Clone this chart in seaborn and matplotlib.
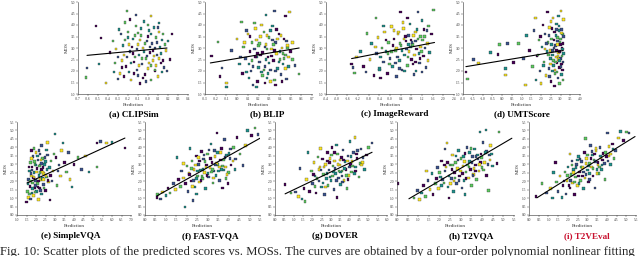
import numpy as np
import pandas as pd
import matplotlib
matplotlib.use('Agg')
import matplotlib.pyplot as plt
import seaborn as sns

sns.set_theme(style='ticks')
plt.rcParams['font.family'] = ['Liberation Serif', 'DejaVu Serif']

# ---------------- data ----------------
# (a) CLIPSim: outer points + dense core
clip_x_outer = [-0.52, -0.62, -0.61, -0.42, -0.49, -0.47, -0.21, -0.12, 0.03, 0.11, 0.24,
                -0.35, -0.30, -0.28, -0.25, -0.22, -0.20, -0.18, -0.17, -0.15, -0.14, -0.12, -0.11,
                -0.10, -0.09, -0.08, -0.07, -0.06, -0.05, -0.04, -0.03, -0.02, -0.01, 0.00, 0.01,
                0.02, 0.03, 0.04, 0.05, 0.06, 0.07, 0.08, 0.09, 0.10, 0.12, 0.13, 0.15, 0.16, 0.18,
                0.20, 0.22, -0.33, -0.27, -0.24, -0.19, -0.16, -0.13, -0.10, -0.08, -0.04, 0.00,
                0.03, 0.07, 0.11, 0.14, -0.38, -0.23, 0.19]
clip_y_outer = [3.96, 1.73, 2.13, 1.48, 2.30, 3.43, 4.60, 4.43, 4.39, 4.09, 3.60,
                3.30, 2.60, 1.90, 3.10, 2.20, 3.70, 2.85, 1.60, 3.40, 2.40, 3.95, 2.05,
                3.15, 2.70, 1.45, 3.55, 2.30, 3.00, 4.15, 1.85, 2.55, 3.30, 2.10, 3.75,
                2.80, 1.60, 3.20, 2.45, 3.90, 2.00, 3.45, 2.70, 1.75, 3.05, 2.35, 3.60, 2.15, 2.90,
                3.30, 2.50, 2.35, 3.60, 2.70, 1.95, 3.05, 2.60, 1.80, 3.35, 2.85, 3.50,
                2.25, 3.00, 2.55, 1.95, 2.80, 4.10, 2.00]
clip_x_core = [-0.32, -0.29, -0.26, -0.23, -0.21, -0.19, -0.17, -0.15, -0.13, -0.11, -0.09, -0.07,
               -0.05, -0.03, -0.01, 0.01, 0.03, 0.05, 0.07, 0.09, 0.11, 0.13, 0.15, 0.17, -0.30,
               -0.26, -0.20, -0.14, -0.06, 0.02, 0.08, 0.14, -0.18, -0.10, -0.02, 0.06, -0.34,
               -0.24, 0.00, 0.10]
clip_y_core = [2.95, 3.80, 2.15, 3.35, 2.60, 3.15, 2.35, 2.75, 3.55, 2.95, 2.25, 3.85,
               1.70, 3.20, 2.65, 2.35, 3.60, 2.90, 2.05, 3.25, 3.70, 2.75, 2.45, 3.15, 1.65,
               2.45, 3.45, 1.90, 2.55, 3.05, 2.25, 3.35, 4.25, 3.65, 1.55, 2.65, 1.95,
               1.75, 4.00, 3.90]
clip_fit_x = [-0.61, 0.19]
clip_fit_y = [2.68, 3.00]

# (b) BLIP
blip_x_outer = [-0.24, -0.18, -0.14, -0.10, -0.10, -0.16, 0.04, 0.35, 0.49, 0.27, 0.45, 0.58, 0.54,
                0.52, 0.18, 0.26, 0.16,
                -0.05, 0.00, 0.02, 0.05, 0.06, 0.08, 0.10, 0.11, 0.12, 0.14, 0.15, 0.17, 0.18, 0.19,
                0.20, 0.21, 0.22, 0.23, 0.24, 0.25, 0.26, 0.27, 0.28, 0.29, 0.30, 0.31, 0.32, 0.33,
                0.34, 0.35, 0.36, 0.37, 0.38, 0.39, 0.40, 0.41, 0.42, 0.43, 0.44, 0.45, 0.46, 0.47,
                0.48, 0.50, 0.52, 0.13, 0.23, 0.31, 0.36, 0.28]
blip_y_outer = [2.65, 3.26, 2.13, 1.48, 1.30, 1.75, 4.13, 4.60, 4.57, 4.43, 4.40, 1.87, 2.25,
                3.25, 1.30, 1.48, 4.09,
                2.90, 3.40, 2.30, 1.90, 3.05, 2.55, 3.60, 1.70, 2.85, 3.25, 2.20, 3.85, 2.60, 1.55,
                3.10, 2.40, 3.50, 1.95, 2.80, 3.70, 2.20, 3.15, 1.70, 2.60, 3.45, 2.05, 2.95, 3.95,
                2.45, 1.60, 3.25, 2.75, 2.10, 3.60, 2.50, 1.85, 3.00, 2.30, 3.40, 2.70, 1.65, 3.10,
                2.20, 2.85, 2.50, 2.00, 4.00, 3.75, 1.40, 2.95]
blip_x_core = [0.03, 0.07, 0.09, 0.12, 0.14, 0.16, 0.18, 0.20, 0.22, 0.24, 0.26, 0.28, 0.30, 0.32,
               0.34, 0.36, 0.38, 0.40, 0.42, 0.44, 0.46, 0.48, 0.11, 0.19, 0.25, 0.33, 0.41, 0.29,
               0.37, 0.21, 0.15, 0.45, 0.27, 0.35, 0.43, 0.09, 0.31, 0.39, 0.17, 0.47]
blip_y_core = [2.60, 3.25, 1.95, 3.50, 2.45, 2.95, 3.35, 2.15, 2.70, 1.80, 3.05, 3.55, 2.35, 2.65,
               3.15, 2.00, 3.40, 2.85, 1.55, 2.55, 3.30, 2.60, 2.30, 2.75, 2.05, 3.35, 3.55, 1.90,
               3.80, 3.20, 1.40, 2.10, 2.50, 2.90, 2.75, 3.75, 1.55, 2.40, 2.60, 3.00]
blip_fit_x = [-0.25, 0.58]
blip_fit_y = [2.35, 3.00]

# (c) ImageReward
ir_x_outer = [-1.44, -1.33, -1.38, -1.25, -1.10, -1.00, -0.86, -0.90, -0.75, -0.70, -0.60, -0.52,
              -0.50, -0.45, -0.40, -0.35, -0.30, -0.25, -0.20, -0.15, -0.10, -0.05, 0.00, 0.06,
              0.10, 0.15, 0.20, 0.25, 0.30, 0.35, 0.40, 0.42, 0.45, 0.50, 0.55, 0.60, 0.65, 0.70,
              0.72, 0.75, 0.80, 0.85, 0.90, 0.95, 0.98, 1.00, 1.05, 1.10, 1.15, 1.20, 1.25, 1.30,
              1.35, 1.40, 1.48, 1.55, 1.63, 1.05, 0.25, 0.55, 0.78, -0.08, 1.20]
ir_y_outer = [2.30, 1.92, 2.15, 2.60, 2.85, 2.20, 3.64, 1.95, 2.50, 3.20, 1.80, 4.30,
              2.75, 3.45, 2.10, 1.70, 3.00, 2.40, 3.70, 2.85, 1.90, 3.25, 2.55, 3.93,
              2.20, 3.40, 2.90, 1.75, 3.60, 2.45, 4.56, 3.10, 2.05, 3.85, 2.70, 3.30, 2.25, 3.55,
              2.85, 4.05, 2.50, 3.15, 1.85, 3.70, 2.00, 2.95, 3.40, 2.35, 3.05, 4.20, 2.65, 3.50,
              2.15, 3.20, 2.80, 3.60, 4.65, 4.56, 3.00, 2.00, 3.35, 2.75, 1.95]
ir_x_core = [-0.55, -0.35, -0.15, 0.05, 0.20, 0.32, 0.45, 0.58, 0.68, 0.82, 0.92, 1.02, 1.12, 1.22,
             1.32, 1.42, -0.25, 0.12, 0.38, 0.62, 0.88, 1.08, 1.28, -0.02, 0.28, 0.52, 0.76, 0.96,
             1.18, 1.38, 0.48, 0.70, 0.86, 1.15, 0.35, 0.15, -0.40, 0.65, 1.45, 0.95]
ir_y_core = [3.05, 2.60, 3.35, 2.85, 2.35, 3.70, 2.90, 3.50, 2.60, 3.25, 2.70, 3.80, 2.55, 3.35,
             3.00, 2.45, 3.95, 3.10, 3.20, 2.95, 3.55, 2.75, 3.80, 2.30, 2.60, 3.40, 3.05, 2.40,
             2.85, 3.75, 4.10, 3.15, 2.30, 3.50, 2.10, 3.75, 2.05, 4.30, 3.95, 3.30]
ir_fit_x = [-1.44, 1.67]
ir_fit_y = [2.54, 3.24]

# (d) UMTScore
umt_x_outer = [-1.85, -1.78, -1.45, -1.20, -0.58, -0.20, -0.12, 0.29, 0.19, 0.19, 0.60, 0.85,
               1.10, 1.20, 1.25, 1.40, 1.55, 1.65, 1.71, 1.75, 1.80, 1.90, 1.95, 2.00, 2.05, 2.10,
               2.15, 2.20, 2.25, 2.30, 2.32, 2.35, 2.40, 2.45, 2.50, 2.52, 2.55, 2.60, 2.62, 2.65,
               2.70, 2.72, 2.75, 2.78, 2.80, 2.82, 2.85, 2.88, 2.90, 2.92, 2.95, 2.97, 3.00, 3.02,
               3.05, 3.07, 3.10, 3.12, 3.14, 3.15, 2.68, 2.95, 3.05, 2.85, 2.58, 3.10]
umt_y_outer = [1.95, 1.65, 2.50, 2.35, 2.80, 2.71, 3.15, 3.20, 1.83, 2.10, 2.38, 3.20,
               2.55, 1.40, 3.55, 2.90, 2.20, 3.75, 4.30, 1.60, 2.65, 3.35, 2.00, 1.45, 3.05, 4.00,
               2.40, 3.60, 1.80, 2.85, 4.56, 3.25, 2.10, 3.90, 2.55, 1.55, 3.40, 2.90, 4.30, 2.25,
               3.70, 1.90, 3.10, 2.60, 4.05, 2.35, 3.45, 1.70, 2.80, 3.95, 2.15, 3.25, 2.55, 4.60,
               1.85, 3.00, 3.60, 2.40, 4.25, 2.75, 1.35, 1.45, 3.80, 3.15, 2.70, 2.05]
umt_x_core = [2.38, 2.42, 2.48, 2.53, 2.57, 2.63, 2.67, 2.71, 2.76, 2.79, 2.83, 2.86, 2.89, 2.93,
              2.96, 2.99, 3.03, 3.06, 3.09, 3.12, 3.13, 2.44, 2.51, 2.59, 2.66, 2.74, 2.81, 2.87,
              2.94, 3.01, 3.08, 3.14, 2.20, 2.12, 1.98, 1.85, 2.28, 2.46, 2.91, 3.04]
umt_y_core = [2.70, 3.55, 2.30, 3.15, 3.85, 2.45, 3.00, 2.05, 3.55, 2.90, 1.95, 3.30, 2.50, 3.75,
              2.85, 3.40, 2.20, 3.65, 2.95, 3.20, 1.60, 1.75, 4.15, 2.00, 3.35, 2.40, 3.80, 2.65,
              2.45, 3.15, 2.65, 3.50, 2.95, 2.25, 3.50, 2.70, 3.20, 2.90, 4.40, 2.30]
umt_fit_x = [-1.85, 3.14]
umt_fit_y = [2.19, 2.89]

# (e) SimpleVQA
svqa_x_outer = [1.50, 1.55, 1.60, 1.62, 1.65, 1.68, 1.70, 1.72, 1.75, 1.78, 1.80, 1.82, 1.85, 1.88,
                1.90, 1.92, 1.95, 1.98, 2.00, 2.02, 2.05, 2.08, 2.10, 2.12, 2.15, 2.18, 2.20, 2.22,
                2.25, 2.28, 2.30, 2.35, 2.38, 2.40, 2.45, 2.50, 2.55, 2.60, 2.65, 2.70, 2.74, 2.80,
                2.85, 2.90, 3.00, 3.05, 3.10, 3.20, 3.30, 3.42, 3.50, 3.60, 3.70, 3.80, 3.90, 4.00,
                4.20, 4.40, 4.60, 4.80, 5.21, 5.20, 5.40, 5.70, 6.00, 6.68, 1.90, 2.30, 2.60]
svqa_y_outer = [0.77, 1.40, 2.10, 1.05, 2.60, 1.70, 3.10, 0.95, 2.30, 1.30, 2.85, 1.90, 3.45, 1.15,
                2.50, 1.60, 3.00, 2.05, 3.70, 1.40, 2.75, 1.85, 3.25, 0.90, 2.35, 1.60, 2.95, 3.60,
                2.10, 1.25, 2.70, 3.35, 1.80, 2.45, 3.00, 1.45, 2.25, 3.55, 1.95, 2.80, 0.89, 3.20,
                2.00, 2.60, 4.79, 3.40, 1.75, 2.95, 2.30, 4.26, 3.10, 2.55, 3.70, 2.10, 1.65, 3.00,
                3.40, 2.70, 3.50, 2.55, 4.26, 2.84, 4.35, 4.25, 4.30, 3.96, 3.95, 4.10, 4.30]
svqa_x_core = [1.58, 1.63, 1.67, 1.73, 1.77, 1.83, 1.87, 1.93, 1.97, 2.03, 2.07, 2.13, 2.17, 2.23,
               2.27, 2.33, 2.37, 2.43, 2.47, 2.53, 2.57, 2.63, 1.70, 1.80, 1.90, 2.00, 2.10, 2.20,
               2.30, 2.40, 2.50, 1.75, 1.95, 2.15, 2.35, 2.55, 2.75, 2.95, 3.15, 3.35]
svqa_y_core = [1.85, 2.85, 1.25, 2.45, 3.35, 1.55, 2.20, 3.15, 1.75, 2.55, 3.50, 2.00, 2.90, 1.45,
               3.25, 2.15, 2.80, 1.60, 3.40, 2.35, 2.70, 2.05, 2.00, 2.65, 2.25, 2.95, 1.65, 2.50,
               3.05, 2.10, 3.15, 3.80, 1.35, 3.80, 2.55, 3.85, 2.35, 3.60, 2.60, 3.80]
svqa_fit_x = [1.53, 6.68]
svqa_fit_y = [1.89, 4.55]

# (f) FAST-VQA
fast_x_outer = [0.57, 0.60, 0.75, 0.85, 1.00, 1.10, 1.20, 1.35, 1.45, 1.53, 1.60, 1.70, 1.75, 1.85,
                1.91, 1.95, 2.00, 2.05, 2.10, 2.15, 2.20, 2.25, 2.30, 2.35, 2.40, 2.45, 2.50, 2.55,
                2.60, 2.65, 2.70, 2.75, 2.80, 2.85, 2.90, 2.95, 3.00, 3.05, 3.10, 3.15, 3.20, 3.25,
                3.30, 3.35, 3.40, 3.44, 3.50, 3.55, 3.60, 3.65, 3.70, 3.75, 3.80, 3.85, 3.90, 3.97,
                4.00, 4.10, 4.20, 4.30, 4.40, 4.55, 4.69, 4.80, 4.90, 5.10, 5.26, 5.40, 1.85, 2.45]
fast_y_outer = [1.02, 1.20, 0.95, 1.35, 1.15, 1.60, 1.30, 1.85, 1.50, 3.40, 2.10, 1.70, 2.60, 2.20,
                0.48, 1.85, 2.90, 1.40, 2.45, 3.95, 2.00, 3.20, 0.85, 2.70, 1.65, 3.50, 2.30, 3.00,
                1.95, 2.65, 3.75, 2.15, 3.30, 2.50, 1.55, 2.95, 3.60, 2.25, 2.80, 4.20, 3.10, 1.90,
                2.60, 3.45, 2.35, 4.84, 3.00, 2.05, 3.70, 2.70, 1.60, 3.25, 4.45, 2.85, 3.55, 1.85,
                2.50, 3.90, 3.20, 2.70, 4.60, 3.60, 2.93, 4.10, 5.00, 4.70, 5.14, 4.75, 3.05, 1.25]
fast_x_core = [2.12, 2.22, 2.32, 2.42, 2.52, 2.62, 2.72, 2.82, 2.92, 3.02, 3.12, 3.22, 3.32, 3.42,
               3.52, 3.62, 3.72, 3.82, 3.92, 4.02, 4.12, 4.22, 4.32, 2.27, 2.47, 2.67, 2.87, 3.07,
               3.27, 3.47, 3.67, 3.87, 4.07, 2.57, 2.77, 2.97, 3.17, 3.37, 3.57, 3.77]
fast_y_core = [2.40, 2.75, 2.05, 2.95, 2.60, 3.20, 2.30, 3.55, 2.85, 2.45, 3.35, 2.70, 3.80, 3.05,
               2.60, 3.25, 2.90, 3.40, 2.40, 3.65, 2.95, 4.00, 3.30, 1.70, 2.15, 2.05, 3.15, 3.85,
               2.20, 3.70, 3.95, 2.15, 3.35, 3.40, 2.70, 2.35, 2.55, 2.95, 2.85, 2.65]
fast_fit_x = [0.57, 5.50]
fast_fit_y = [1.13, 4.54]

# (g) DOVER
dover_x_outer = [0.54, 0.85, 1.10, 1.25, 1.45, 1.55, 1.60, 1.34, 1.70, 1.77, 1.85, 1.95, 2.00, 2.10,
                 2.15, 2.20, 2.30, 2.35, 2.40, 2.50, 2.55, 2.60, 2.65, 2.70, 2.75, 2.80, 2.85, 2.90,
                 2.95, 3.00, 3.05, 3.10, 3.15, 3.20, 3.25, 3.32, 3.35, 3.40, 3.45, 3.50, 3.55, 3.60,
                 3.65, 3.70, 3.75, 3.80, 3.85, 3.90, 3.95, 4.02, 4.05, 4.10, 4.20, 4.29, 4.30, 4.40,
                 4.50, 4.60, 4.70, 4.80, 4.90, 5.00, 5.20, 2.45, 3.30]
dover_y_outer = [1.79, 1.30, 1.35, 1.10, 0.95, 1.55, 0.80, 2.75, 2.10, 3.70, 1.40, 2.60, 1.85, 3.10,
                 2.30, 1.30, 3.43, 2.00, 2.85, 1.65, 3.30, 2.40, 1.20, 3.00, 2.15, 3.70, 1.75, 2.65,
                 3.35, 2.05, 4.00, 2.90, 1.50, 3.20, 2.45, 1.02, 3.60, 2.20, 2.95, 1.80, 3.40, 2.60,
                 3.85, 2.05, 3.15, 2.70, 1.55, 3.50, 2.35, 4.36, 3.00, 2.55, 3.70, 4.60, 2.85, 3.35,
                 2.25, 3.90, 3.10, 2.70, 3.55, 4.00, 4.25, 3.95, 4.15]
dover_x_core = [2.05, 2.25, 2.45, 2.62, 2.78, 2.92, 3.08, 3.22, 3.38, 3.52, 3.68, 3.82, 3.98, 4.12,
                4.25, 4.38, 4.55, 4.72, 2.35, 2.58, 2.82, 3.02, 3.28, 3.48, 3.72, 3.92, 4.15, 4.42,
                2.70, 2.95, 3.18, 3.42, 3.62, 3.88, 4.08, 4.32, 2.15, 3.58, 4.62, 3.12]
dover_y_core = [2.40, 2.15, 2.65, 2.85, 2.45, 3.10, 2.30, 2.75, 3.00, 2.55, 3.25, 2.35, 2.85, 3.15,
                2.45, 3.60, 3.05, 3.40, 2.70, 1.90, 3.20, 3.55, 2.05, 3.25, 2.75, 2.10, 2.90, 3.80,
                1.65, 2.25, 3.70, 2.60, 1.95, 3.20, 3.45, 2.60, 1.70, 2.30, 2.95, 2.55]
dover_fit_x = [0.54, 5.20]
dover_fit_y = [1.25, 3.71]

# (h) T2VQA
t2vqa_x_outer = [0.05, 0.80, 0.95, 1.05, 1.15, 1.25, 1.35, 1.45, 1.55, 1.65, 1.70, 1.80, 1.90, 1.95,
                 2.05, 2.10, 2.20, 2.25, 2.35, 2.40, 2.44, 2.50, 2.55, 2.60, 2.65, 2.70, 2.75, 2.80,
                 2.85, 2.90, 2.95, 3.00, 3.05, 3.10, 3.15, 3.20, 3.25, 3.30, 3.35, 3.40, 3.45, 3.50,
                 3.55, 3.60, 3.65, 3.70, 3.75, 3.80, 3.85, 3.90, 3.95, 4.00, 4.05, 4.10, 4.18, 4.20,
                 4.30, 4.35, 4.40, 4.50, 4.70, 4.80, 2.25, 1.40, 3.20]
t2vqa_y_outer = [1.87, 1.00, 1.45, 0.90, 1.30, 1.75, 1.10, 2.05, 1.50, 2.45, 1.20, 1.85, 2.80, 1.55,
                 2.25, 3.20, 1.90, 2.60, 4.25, 1.65, 1.00, 2.95, 2.15, 3.55, 1.40, 2.50, 3.10, 1.85,
                 2.75, 3.80, 2.30, 3.35, 1.60, 2.90, 2.05, 3.65, 2.55, 4.00, 2.20, 3.15, 2.70, 1.75,
                 3.45, 2.40, 3.90, 2.95, 2.10, 3.30, 2.60, 4.90, 3.60, 2.80, 4.30, 3.10, 5.02, 2.35,
                 1.45, 3.55, 4.10, 2.90, 3.05, 4.90, 3.90, 2.60, 1.20]
t2vqa_x_core = [1.85, 2.00, 2.15, 2.30, 2.45, 2.58, 2.72, 2.86, 2.98, 3.12, 3.24, 3.38, 3.52, 3.62,
                3.78, 3.92, 4.06, 4.22, 4.38, 2.08, 2.38, 2.62, 2.92, 3.18, 3.42, 3.68, 3.98, 4.28,
                2.52, 2.78, 3.08, 3.32, 3.58, 3.88, 4.15, 2.22, 3.48, 3.72, 2.68, 4.45]
t2vqa_y_core = [2.15, 2.50, 2.10, 2.85, 2.30, 2.70, 2.20, 3.25, 2.60, 3.45, 2.15, 2.85, 3.10, 2.75,
                3.55, 3.10, 2.65, 3.75, 3.25, 1.75, 3.10, 2.95, 2.05, 3.15, 3.70, 2.60, 3.40, 3.00,
                1.85, 3.50, 2.45, 2.95, 2.35, 3.00, 3.70, 2.95, 3.95, 3.45, 2.00, 3.60]
t2vqa_fit_x = [0.56, 5.40]
t2vqa_fit_y = [0.96, 4.54]

# (i) T2VEval
t2ve_x_outer = [0.36, 0.67, 0.90, 1.10, 1.20, 1.35, 1.40, 1.50, 1.60, 1.70, 1.75, 1.85, 1.90, 1.95,
                2.00, 2.10, 2.15, 2.20, 2.25, 2.30, 2.35, 2.40, 2.45, 2.50, 2.55, 2.60, 2.65, 2.70,
                2.75, 2.80, 2.85, 2.90, 2.92, 2.95, 3.00, 3.05, 3.10, 3.15, 3.20, 3.25, 3.30, 3.35,
                3.40, 3.45, 3.50, 3.55, 3.60, 3.65, 3.70, 3.75, 3.80, 3.90, 4.05, 4.10, 4.20, 4.30,
                4.36, 4.45, 4.60, 4.70, 4.85, 5.00, 5.15, 2.10, 1.25]
t2ve_y_outer = [1.08, 1.85, 1.30, 1.55, 1.00, 3.10, 1.95, 1.40, 2.30, 1.05, 1.75, 2.55, 1.25, 2.05,
                2.85, 1.60, 2.40, 3.20, 1.90, 2.70, 1.20, 2.25, 3.00, 1.75, 3.45, 2.55, 2.05, 3.15,
                2.80, 1.55, 3.70, 4.54, 2.40, 3.35, 2.65, 1.95, 3.05, 4.10, 2.85, 3.55, 2.30, 3.25,
                1.60, 3.80, 2.70, 3.10, 2.45, 4.00, 3.40, 2.95, 3.65, 2.10, 4.85, 3.50, 3.00, 4.20,
                3.35, 3.80, 4.55, 4.95, 4.40, 4.90, 4.85, 3.60, 2.50]
t2ve_x_core = [1.80, 1.98, 2.12, 2.28, 2.42, 2.55, 2.68, 2.80, 2.94, 3.06, 3.18, 3.30, 3.42, 3.54,
               3.66, 3.78, 3.92, 4.06, 4.18, 4.32, 2.05, 2.35, 2.62, 2.88, 3.12, 3.38, 3.62, 3.88,
               4.12, 2.48, 2.74, 3.00, 3.24, 3.50, 3.74, 3.98, 2.22, 3.10, 3.45, 2.58]
t2ve_y_core = [2.00, 2.35, 2.05, 2.50, 2.80, 2.30, 2.85, 2.55, 3.05, 2.90, 3.35, 2.75, 3.15, 2.95,
               3.50, 3.25, 3.70, 3.20, 3.60, 3.90, 1.75, 1.95, 3.30, 2.20, 2.45, 3.60, 2.85, 3.05,
               4.05, 3.25, 2.30, 3.55, 3.75, 2.45, 2.70, 3.45, 2.95, 2.10, 3.95, 1.85]
t2ve_fit_x = [0.41, 5.45]
t2ve_fit_y = [1.02, 4.64]

captions = ['(a) CLIPSim', '(b) BLIP', '(c) ImageReward', '(d) UMTScore',
            '(e) SimpleVQA', '(f) FAST-VQA', '(g) DOVER', '(h) T2VQA', '(i) T2VEval']
fig_caption = ('Fig. 10: Scatter plots of the predicted scores vs. MOSs. The curves are '
               'obtained by a four-order polynomial nonlinear fitting')

top_yticks = [1.0, 1.5, 2.0, 2.5, 3.0, 3.5, 4.0, 4.5, 5.0]
bot_yticks = [0.0, 0.5, 1.0, 1.5, 2.0, 2.5, 3.0, 3.5, 4.0, 4.5, 5.0, 5.5]

# ---------------- layout / style ----------------
W, H = 640, 256
palette = ['#440154', '#3b528b', '#21918c', '#5ec962', '#fde725']

panels = [
    (clip_x_outer + clip_x_core, clip_y_outer + clip_y_core, clip_fit_x, clip_fit_y,
     (-0.7, 0.4), np.arange(-0.7, 0.41, 0.1), (1.0, 5.0), top_yticks,
     (78, 188, 2, 94), (134, 114), 'black'),
    (blip_x_outer + blip_x_core, blip_y_outer + blip_y_core, blip_fit_x, blip_fit_y,
     (-0.3, 0.7), np.arange(-0.3, 0.71, 0.1), (1.0, 5.0), top_yticks,
     (205, 312, 2, 94), (267, 114), 'black'),
    (ir_x_outer + ir_x_core, ir_y_outer + ir_y_core, ir_fit_x, ir_fit_y,
     (-2.4, 2.4), np.arange(-2.4, 2.41, 0.4), (1.0, 5.0), top_yticks,
     (326, 454, 2, 94), (395, 114), 'black'),
    (umt_x_outer + umt_x_core, umt_y_outer + umt_y_core, umt_fit_x, umt_fit_y,
     (-2.0, 4.0), np.arange(-2.0, 4.01, 0.5), (1.0, 5.0), top_yticks,
     (463, 580, 2, 94), (522, 114), 'black'),
    (svqa_x_outer + svqa_x_core, svqa_y_outer + svqa_y_core, svqa_fit_x, svqa_fit_y,
     (1.0, 7.0), np.arange(1.0, 7.01, 0.5), (0.0, 5.5), bot_yticks,
     (17, 131, 122, 215), (71, 236), 'black'),
    (fast_x_outer + fast_x_core, fast_y_outer + fast_y_core, fast_fit_x, fast_fit_y,
     (0.0, 5.5), np.arange(0.0, 5.51, 0.5), (0.0, 5.5), bot_yticks,
     (145, 260, 122, 215), (210, 236), 'black'),
    (dover_x_outer + dover_x_core, dover_y_outer + dover_y_core, dover_fit_x, dover_fit_y,
     (0.0, 6.0), np.arange(0.0, 6.01, 0.5), (0.0, 5.5), bot_yticks,
     (275, 387, 122, 215), (335, 236), 'black'),
    (t2vqa_x_outer + t2vqa_x_core, t2vqa_y_outer + t2vqa_y_core, t2vqa_fit_x, t2vqa_fit_y,
     (0.0, 5.5), np.arange(0.0, 5.51, 0.5), (0.0, 5.5), bot_yticks,
     (397, 514, 122, 215), (471, 236), 'black'),
    (t2ve_x_outer + t2ve_x_core, t2ve_y_outer + t2ve_y_core, t2ve_fit_x, t2ve_fit_y,
     (0.0, 5.5), np.arange(0.0, 5.51, 0.5), (0.0, 5.5), bot_yticks,
     (529, 636, 122, 215), (587, 236), '#c8102e'),
]

fig = plt.figure(figsize=(W / 100, H / 100), dpi=100)
fig.patch.set_facecolor('white')

for k, (xs, ys, fx, fy, xlim, xticks, ylim, yticks, (l, r, t, b), (cx, cy), ccol) in enumerate(panels):
    ax = fig.add_axes([l / W, 1 - b / H, (r - l) / W, (b - t) / H])
    ax.set_facecolor('white')
    df = pd.DataFrame({'Prediction': xs, 'MOS': ys,
                       'grp': [(i * 3) % 5 for i in range(len(xs))]})
    sns.scatterplot(data=df, x='Prediction', y='MOS', hue='grp', palette=palette,
                    marker='s', s=3.5, edgecolor='#1a1a1a', linewidth=0.2,
                    legend=False, ax=ax, zorder=2)
    sns.lineplot(x=fx, y=fy, color='black', lw=0.8, ax=ax, zorder=3)
    ax.set_xlim(*xlim)
    ax.set_ylim(*ylim)
    ax.set_xticks(xticks)
    ax.set_yticks(yticks)
    ax.set_xticklabels([f'{v:.1f}' for v in xticks])
    ax.set_yticklabels([f'{v:.1f}' for v in yticks])
    ax.tick_params(labelsize=2.6, length=1.2, width=0.3, pad=0.8, colors='#333333')
    for s in ['top', 'right']:
        ax.spines[s].set_visible(False)
    for s in ['left', 'bottom']:
        ax.spines[s].set_linewidth(0.4)
        ax.spines[s].set_color('#333333')
    ax.set_xlabel('Prediction', fontsize=3.6, labelpad=1.5)
    ax.set_ylabel('MOS', fontsize=3.6, labelpad=1.5)
    fig.text(cx / W, 1 - cy / H, captions[k], ha='center', va='center',
             fontsize=6.6, fontweight='bold', color=ccol)

fig.text(0.0, 1 - 246 / H, fig_caption, ha='left', va='top', fontsize=9.2)

fig.savefig('out.png', dpi=100, facecolor='white')
